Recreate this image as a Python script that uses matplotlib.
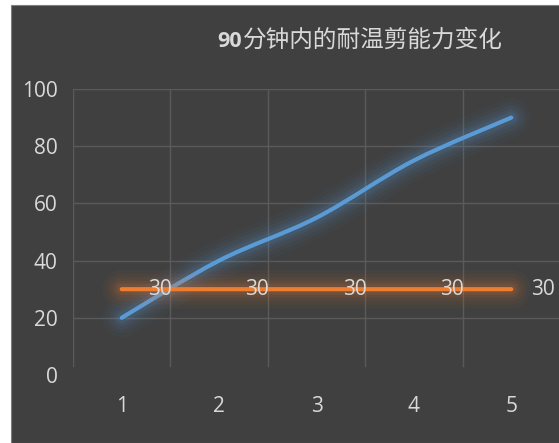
import matplotlib
matplotlib.use('Agg')
import matplotlib.pyplot as plt
from matplotlib.path import Path
from matplotlib.patches import PathPatch, Rectangle
import numpy

# data
minutes = [1, 2, 3, 4, 5]
shear = [20, 40, 55, 75, 90]
limit = [30, 30, 30, 30, 30]
title_num = '90'
title_txt = '分钟内的耐温剪能力变化'

bg = '#404040'
grid = '#5a5a5a'
txt = '#d9d9d9'
blue = '#5b9bd5'
orange = '#ed7d31'

plt.rcParams['font.family'] = ['Open Sans', 'DejaVu Sans']

fig = plt.figure(figsize=(5.59, 4.43), dpi=100, facecolor='white')
fig.patches.append(Rectangle((11/559, 0), 1, (443-5)/443, transform=fig.transFigure,
                             facecolor=bg, edgecolor='#7f7f7f', linewidth=0.8, zorder=-5))

ax = fig.add_axes([73/559, 68/443, 487/559, 286/443])
ax.set_zorder(1)
ax.set_facecolor(bg)
ax.patch.set_alpha(0)
for s in ax.spines.values():
    s.set_visible(False)
ax.set_xlim(0.5, 5.5)
ax.set_ylim(0, 100)
ax.set_xticks(minutes)
ax.set_yticks(range(0, 101, 20))
ax.tick_params(length=0, colors=txt, labelsize=15)
ax.tick_params(axis='y', pad=11)
ax.tick_params(axis='x', pad=15)
for v in range(20, 101, 20):
    ax.axhline(v, color=grid, lw=1, zorder=1)
for v in numpy.arange(0.5, 6, 1):
    ax.axvline(v, ymin=0.03, color=grid, lw=1, zorder=1)


def smooth_path(xs, ys):
    # excel-style bezier smoothing through the points
    pts = list(zip(xs, ys))
    verts = [pts[0]]
    codes = [Path.MOVETO]
    n = len(pts)
    for i in range(n - 1):
        p0 = pts[max(i - 1, 0)]
        p1 = pts[i]
        p2 = pts[i + 1]
        p3 = pts[min(i + 2, n - 1)]
        c1 = (p1[0] + (p2[0] - p0[0]) / 6, p1[1] + (p2[1] - p0[1]) / 6)
        c2 = (p2[0] - (p3[0] - p1[0]) / 6, p2[1] - (p3[1] - p1[1]) / 6)
        verts += [c1, c2, p2]
        codes += [Path.CURVE4] * 3
    return Path(verts, codes)


def glow_line(path, color, z):
    for w, a in [(28, 0.035), (22, 0.045), (17, 0.06), (12, 0.08), (8, 0.11)]:
        ax.add_patch(PathPatch(path, facecolor='none', edgecolor=color, lw=w,
                               alpha=a, capstyle='round', joinstyle='round', zorder=z))
    ax.add_patch(PathPatch(path, facecolor='none', edgecolor=color, lw=3,
                           capstyle='round', joinstyle='round', zorder=z + 0.5))


glow_line(smooth_path(minutes, shear), blue, 2)
glow_line(smooth_path(minutes, limit), orange, 3)

for i, (x, y) in enumerate(zip(minutes, limit)):
    off = 14 if i == len(minutes) - 1 else 19
    ax.annotate(str(y), (x, y), xytext=(off, 0), textcoords='offset points',
                ha='left', va='center', color=txt, fontsize=15, zorder=5,
                annotation_clip=False)

t1 = fig.text(217/559, 1 - 47/443, title_num, color=txt, fontsize=15.5, fontweight='bold',
              ha='left', va='baseline')
fig.canvas.draw()
ax.annotate(title_txt, xy=(1, 0), xycoords=t1, xytext=(1, 0), textcoords='offset points',
            color=txt, fontsize=17, family=['Noto Sans CJK SC', 'DejaVu Sans'],
            ha='left', va='bottom', annotation_clip=False)

fig.savefig('out.png', dpi=100, facecolor='white')
